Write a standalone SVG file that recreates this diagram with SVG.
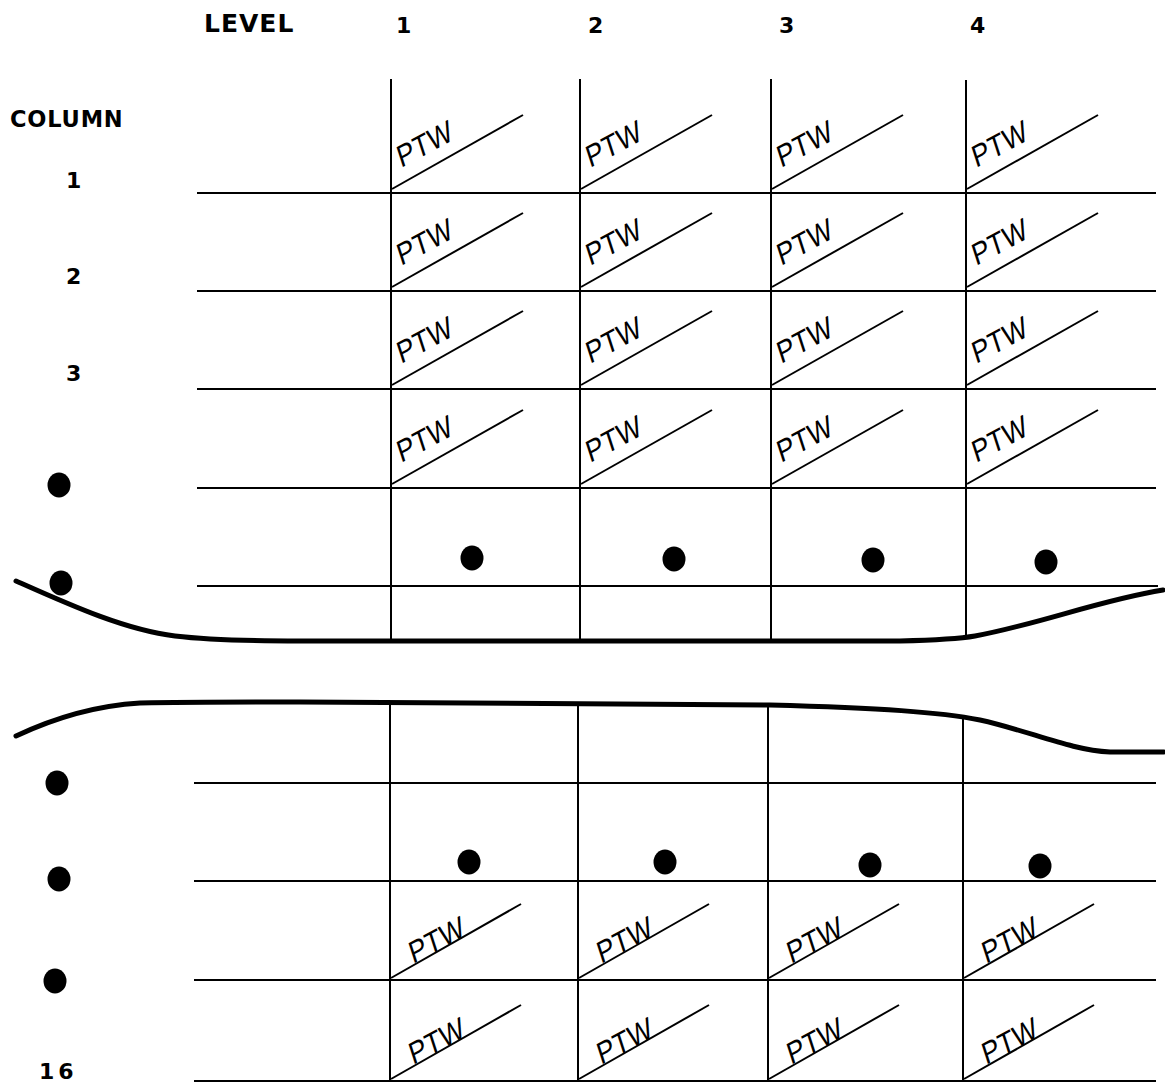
<svg xmlns="http://www.w3.org/2000/svg" width="1165" height="1084" viewBox="0 0 1165 1084">
<style>
.bg{fill:#ffffff}
.g{stroke:#000;stroke-width:2;fill:none;stroke-linecap:square}
.d{stroke:#000;stroke-width:2;fill:none}
.thick{stroke:#000;stroke-width:5;fill:none;stroke-linecap:round;stroke-linejoin:round}
.lbl{font-family:"DejaVu Sans","Liberation Sans",sans-serif;font-weight:bold;fill:#000}
.ptw{font-family:"Liberation Sans","DejaVu Sans",sans-serif;font-size:30px;fill:#000}
.dot{fill:#000}
</style>
<rect class="bg" x="0" y="0" width="1165" height="1084"/>

<g id="headers">
<text class="lbl" x="204" y="32" font-size="25" letter-spacing="1">LEVEL</text>
<text class="lbl" x="396" y="33" font-size="22">1</text>
<text class="lbl" x="588" y="33" font-size="22">2</text>
<text class="lbl" x="779" y="33" font-size="22">3</text>
<text class="lbl" x="970" y="33" font-size="22">4</text>
<text class="lbl" x="10" y="127" font-size="22.5" letter-spacing="0.8">COLUMN</text>
<text class="lbl" x="66" y="188" font-size="22">1</text>
<text class="lbl" x="66" y="284" font-size="22">2</text>
<text class="lbl" x="66" y="381" font-size="22">3</text>
<text class="lbl" x="39" y="1079" font-size="22" letter-spacing="4">16</text>
</g>

<g id="connectors">
<line class="g" x1="198" y1="193" x2="1155" y2="193"/>
<line class="g" x1="198" y1="291" x2="1155" y2="291"/>
<line class="g" x1="198" y1="389" x2="1155" y2="389"/>
<line class="g" x1="198" y1="488" x2="1155" y2="488"/>
<line class="g" x1="198" y1="586" x2="1157" y2="586"/>
<line class="g" x1="391" y1="80" x2="391" y2="641"/>
<line class="g" x1="580" y1="80" x2="580" y2="641"/>
<line class="g" x1="771" y1="80" x2="771" y2="641"/>
<line class="g" x1="966" y1="81" x2="966" y2="638"/>
<line class="g" x1="195" y1="783" x2="1155" y2="783"/>
<line class="g" x1="195" y1="881" x2="1155" y2="881"/>
<line class="g" x1="195" y1="980" x2="1155" y2="980"/>
<line class="g" x1="195" y1="1081" x2="1155" y2="1081"/>
<line class="g" x1="390" y1="702" x2="390" y2="1081"/>
<line class="g" x1="578" y1="703" x2="578" y2="1081"/>
<line class="g" x1="768" y1="706" x2="768" y2="1081"/>
<line class="g" x1="963" y1="718" x2="963" y2="1081"/>
<path class="thick" d="M16,581 C70,605 125,630 175,636 C200,639 230,641 300,641 L900,641 C940,640 958,639 975,636 C1040,624 1100,600 1163,590"/>
<path class="thick" d="M16,736 C50,720 90,706 140,703 C170,702 220,702 300,702 L770,705 C880,708 940,712 980,720 C1030,731 1070,750 1110,752 L1164,752"/>
</g>

<g id="dots-left">
<ellipse class="dot" cx="59" cy="485" rx="11.5" ry="12.5"/>
<ellipse class="dot" cx="61" cy="583" rx="11.5" ry="12.5"/>
<ellipse class="dot" cx="57" cy="783" rx="11.5" ry="12.5"/>
<ellipse class="dot" cx="59" cy="879" rx="11.5" ry="12.5"/>
<ellipse class="dot" cx="55" cy="981" rx="11.5" ry="12.5"/>
</g>
<g id="dots-row5">
<ellipse class="dot" cx="472" cy="558" rx="11.5" ry="12.5"/>
<ellipse class="dot" cx="674" cy="559" rx="11.5" ry="12.5"/>
<ellipse class="dot" cx="873" cy="560" rx="11.5" ry="12.5"/>
<ellipse class="dot" cx="1046" cy="562" rx="11.5" ry="12.5"/>
</g>
<g id="dots-row14">
<ellipse class="dot" cx="469" cy="862" rx="11.5" ry="12.5"/>
<ellipse class="dot" cx="665" cy="862" rx="11.5" ry="12.5"/>
<ellipse class="dot" cx="870" cy="865" rx="11.5" ry="12.5"/>
<ellipse class="dot" cx="1040" cy="866" rx="11.5" ry="12.5"/>
</g>

<g id="c1-l1"><line class="d" x1="392" y1="189" x2="523" y2="115"/><text class="ptw" transform="matrix(0.8 -0.43 0.31 0.95 401 168)">PTW</text></g>
<g id="c1-l2"><line class="d" x1="581" y1="189" x2="712" y2="115"/><text class="ptw" transform="matrix(0.8 -0.43 0.31 0.95 590 168)">PTW</text></g>
<g id="c1-l3"><line class="d" x1="772" y1="189" x2="903" y2="115"/><text class="ptw" transform="matrix(0.8 -0.43 0.31 0.95 781 168)">PTW</text></g>
<g id="c1-l4"><line class="d" x1="967" y1="189" x2="1098" y2="115"/><text class="ptw" transform="matrix(0.8 -0.43 0.31 0.95 976 168)">PTW</text></g>

<g id="c2-l1"><line class="d" x1="392" y1="287" x2="523" y2="213"/><text class="ptw" transform="matrix(0.8 -0.43 0.31 0.95 401 266)">PTW</text></g>
<g id="c2-l2"><line class="d" x1="581" y1="287" x2="712" y2="213"/><text class="ptw" transform="matrix(0.8 -0.43 0.31 0.95 590 266)">PTW</text></g>
<g id="c2-l3"><line class="d" x1="772" y1="287" x2="903" y2="213"/><text class="ptw" transform="matrix(0.8 -0.43 0.31 0.95 781 266)">PTW</text></g>
<g id="c2-l4"><line class="d" x1="967" y1="287" x2="1098" y2="213"/><text class="ptw" transform="matrix(0.8 -0.43 0.31 0.95 976 266)">PTW</text></g>

<g id="c3-l1"><line class="d" x1="392" y1="385" x2="523" y2="311"/><text class="ptw" transform="matrix(0.8 -0.43 0.31 0.95 401 364)">PTW</text></g>
<g id="c3-l2"><line class="d" x1="581" y1="385" x2="712" y2="311"/><text class="ptw" transform="matrix(0.8 -0.43 0.31 0.95 590 364)">PTW</text></g>
<g id="c3-l3"><line class="d" x1="772" y1="385" x2="903" y2="311"/><text class="ptw" transform="matrix(0.8 -0.43 0.31 0.95 781 364)">PTW</text></g>
<g id="c3-l4"><line class="d" x1="967" y1="385" x2="1098" y2="311"/><text class="ptw" transform="matrix(0.8 -0.43 0.31 0.95 976 364)">PTW</text></g>

<g id="c4-l1"><line class="d" x1="392" y1="484" x2="523" y2="410"/><text class="ptw" transform="matrix(0.8 -0.43 0.31 0.95 401 463)">PTW</text></g>
<g id="c4-l2"><line class="d" x1="581" y1="484" x2="712" y2="410"/><text class="ptw" transform="matrix(0.8 -0.43 0.31 0.95 590 463)">PTW</text></g>
<g id="c4-l3"><line class="d" x1="772" y1="484" x2="903" y2="410"/><text class="ptw" transform="matrix(0.8 -0.43 0.31 0.95 781 463)">PTW</text></g>
<g id="c4-l4"><line class="d" x1="967" y1="484" x2="1098" y2="410"/><text class="ptw" transform="matrix(0.8 -0.43 0.31 0.95 976 463)">PTW</text></g>

<g id="c15-l1"><line class="d" x1="391" y1="978" x2="521" y2="904"/><text class="ptw" transform="matrix(0.8 -0.43 0.31 0.95 413 964)">PTW</text></g>
<g id="c15-l2"><line class="d" x1="579" y1="978" x2="709" y2="904"/><text class="ptw" transform="matrix(0.8 -0.43 0.31 0.95 601 964)">PTW</text></g>
<g id="c15-l3"><line class="d" x1="769" y1="978" x2="899" y2="904"/><text class="ptw" transform="matrix(0.8 -0.43 0.31 0.95 791 964)">PTW</text></g>
<g id="c15-l4"><line class="d" x1="964" y1="978" x2="1094" y2="904"/><text class="ptw" transform="matrix(0.8 -0.43 0.31 0.95 986 964)">PTW</text></g>

<g id="c16-l1"><line class="d" x1="391" y1="1079" x2="521" y2="1005"/><text class="ptw" transform="matrix(0.8 -0.43 0.31 0.95 413 1065)">PTW</text></g>
<g id="c16-l2"><line class="d" x1="579" y1="1079" x2="709" y2="1005"/><text class="ptw" transform="matrix(0.8 -0.43 0.31 0.95 601 1065)">PTW</text></g>
<g id="c16-l3"><line class="d" x1="769" y1="1079" x2="899" y2="1005"/><text class="ptw" transform="matrix(0.8 -0.43 0.31 0.95 791 1065)">PTW</text></g>
<g id="c16-l4"><line class="d" x1="964" y1="1079" x2="1094" y2="1005"/><text class="ptw" transform="matrix(0.8 -0.43 0.31 0.95 986 1065)">PTW</text></g>
</svg>
